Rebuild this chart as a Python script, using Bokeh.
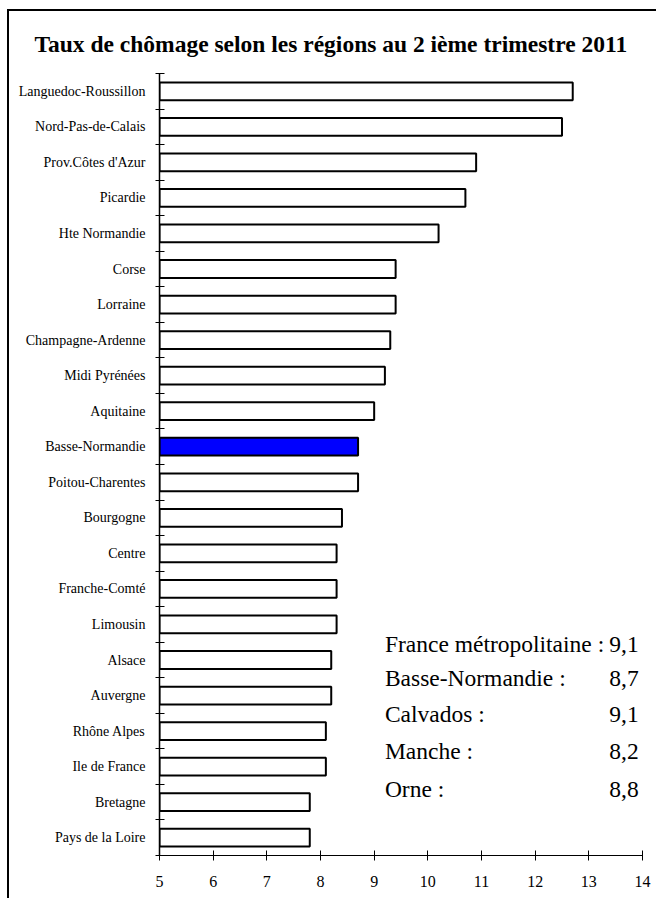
from bokeh.plotting import figure
from bokeh.models import Range1d, FixedTicker, Label, ColumnDataSource
from bokeh.embed import file_html
from bokeh.resources import INLINE

# ---- data (top to bottom) ----
regions = ["Languedoc-Roussillon", "Nord-Pas-de-Calais", "Prov.Côtes d'Azur", "Picardie",
           "Hte Normandie", "Corse", "Lorraine", "Champagne-Ardenne", "Midi Pyrénées",
           "Aquitaine", "Basse-Normandie", "Poitou-Charentes", "Bourgogne", "Centre",
           "Franche-Comté", "Limousin", "Alsace", "Auvergne", "Rhône Alpes",
           "Ile de France", "Bretagne", "Pays de la Loire"]
rates = [12.7, 12.5, 10.9, 10.7, 10.2, 9.4, 9.4, 9.3, 9.2, 9.0, 8.7, 8.7, 8.4, 8.3,
         8.3, 8.3, 8.2, 8.2, 8.1, 8.1, 7.8, 7.8]
highlight = "Basse-Normandie"

x_ticks = [5, 6, 7, 8, 9, 10, 11, 12, 13, 14]

note_names = ["France métropolitaine :", "Basse-Normandie :", "Calvados :", "Manche :", "Orne :"]
note_values = ["9,1", "8,7", "9,1", "8,2", "8,8"]

title_text = "Taux de chômage selon les régions au 2 ième trimestre 2011"

FONT = "Liberation Serif"

n = len(regions)
ypos = [n - 1 - i + 0.5 for i in range(n)]
colors = ["#0000FF" if r == highlight else "white" for r in regions]
src = ColumnDataSource(dict(y=ypos, rate=rates, region=regions, color=colors))

p = figure(width=649, height=889, output_backend="svg", toolbar_location=None,
           x_range=Range1d(5, 14), y_range=Range1d(0, n),
           min_border_left=150, min_border_right=16, min_border_top=62, min_border_bottom=45)
p.styles = {"border-top": "2px solid black", "border-left": "2px solid black",
            "margin-left": "7px", "margin-top": "9px"}
p.outline_line_color = None
p.xgrid.visible = False
p.ygrid.visible = False

p.hbar(y="y", left=5, right="rate", height=0.5, source=src,
       fill_color="color", line_color="black", line_width=2)

# title (shifted left so it is centred on the whole chart)
p.title.text = title_text
p.title.align = "left"
p.title.offset = -125
p.title.text_font = FONT
p.title.text_font_size = "23.5px"
p.title.text_font_style = "bold"
p.title.text_color = "black"
p.title.standoff = 33

# x axis
xa = p.xaxis[0]
xa.ticker = FixedTicker(ticks=x_ticks)
xa.minor_tick_line_color = None
xa.major_tick_in = 5
xa.major_tick_out = 5
xa.major_label_standoff = 15
xa.major_label_text_font = FONT
xa.major_label_text_font_size = "16px"
xa.major_label_text_color = "black"
xa.axis_line_color = "black"

# y axis: labels at centers, ticks at category boundaries
ya = p.yaxis[0]
ya.ticker = FixedTicker(ticks=ypos, minor_ticks=list(range(n + 1)))
ya.major_label_overrides = {y: r for y, r in zip(ypos, regions)}
ya.major_tick_line_color = None
ya.major_tick_in = 0
ya.major_tick_out = 0
ya.minor_tick_line_color = "black"
ya.minor_tick_in = 5
ya.minor_tick_out = 4
ya.major_label_standoff = 10
ya.major_label_text_font = FONT
ya.major_label_text_font_size = "14px"
ya.major_label_text_color = "black"
ya.axis_line_color = "black"
ya.axis_line_width = 1.5

# text block
note_y = [5.95, 4.99, 3.97, 2.93, 1.87]
for name, val, yy in zip(note_names, note_values, note_y):
    p.add_layout(Label(x=9.2, y=yy, text=name, text_font=FONT, text_font_size="23.5px",
                       text_baseline="middle", text_align="left", text_color="black"))
    p.add_layout(Label(x=13.93, y=yy, text=val, text_font=FONT, text_font_size="23.5px",
                       text_baseline="middle", text_align="right", text_color="black"))

open("out.html", "w").write(file_html(p, INLINE))
